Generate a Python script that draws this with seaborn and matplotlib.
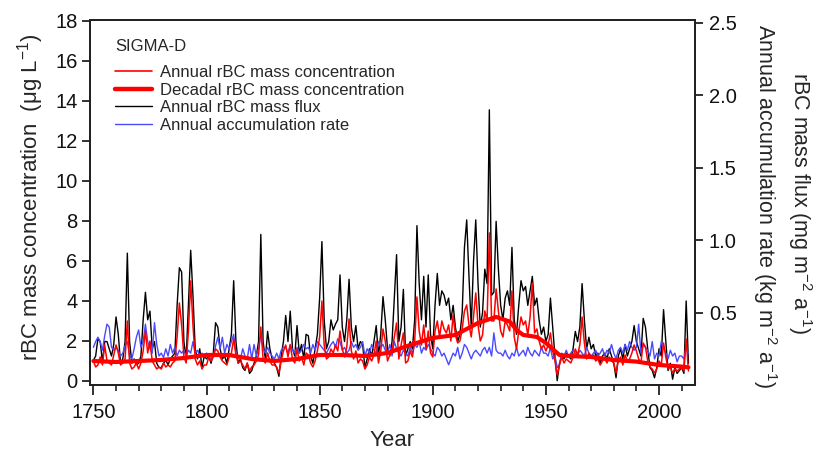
import matplotlib
matplotlib.use("Agg")
import matplotlib.pyplot as plt
import seaborn as sns
from matplotlib.ticker import MultipleLocator
from matplotlib.lines import Line2D

years = list(range(1750, 2014))

# Annual rBC mass concentration (ug/L), 1750-2013
conc = [
    1.0, 0.7, 0.8, 1.2, 0.8, 1.8, 1.0, 0.9, 0.8, 1.3,
    1.8, 1.4, 0.8, 0.9, 1.1, 3.0, 0.9, 0.6, 0.7, 0.9,
    0.6, 0.9, 1.5, 2.5, 1.4, 2.0, 1.0, 0.8, 0.6, 0.7,
    0.6, 0.9, 0.7, 0.8, 0.7, 0.9, 1.0, 2.2, 3.9, 2.8,
    1.2, 0.9, 2.5, 5.0, 2.8, 1.1, 0.8, 1.0, 0.6, 0.8,
    0.8, 1.2, 1.0, 1.2, 1.6, 1.5, 1.2, 1.0, 0.9, 0.8,
    1.2, 1.4, 2.1, 1.3, 0.9, 1.0, 0.8, 0.6, 0.9, 0.5,
    0.7, 0.8, 1.0, 1.3, 2.7, 1.1, 0.9, 1.4, 1.0, 0.8,
    0.8, 0.7, 0.4, 1.0, 1.5, 1.8, 1.2, 1.8, 1.1, 0.9,
    1.6, 1.0, 1.2, 0.8, 1.4, 1.3, 0.9, 0.7, 1.0, 1.5,
    2.2, 4.0, 1.8, 1.1, 1.2, 1.6, 1.4, 1.8, 1.5, 2.5,
    1.6, 1.2, 1.7, 3.1, 1.5, 1.1, 1.5, 0.9, 1.1, 1.0,
    0.6, 0.8, 1.2, 1.0, 1.3, 2.0, 0.9, 1.5, 2.6, 2.0,
    1.0, 1.3, 1.5, 2.2, 2.9, 1.1, 1.8, 2.4, 0.9, 1.0,
    1.5, 1.2, 2.0, 4.2, 2.5, 1.8, 2.8, 1.6, 2.5, 1.4,
    1.2, 2.5, 3.0, 2.2, 3.0, 2.6, 2.4, 2.8, 2.0, 3.3,
    2.3, 1.9, 2.0, 2.6, 3.5, 3.8, 2.8, 2.2, 3.2, 4.4,
    2.8, 2.0, 2.3, 3.5, 3.0, 7.4, 3.0, 3.0, 4.6, 3.5,
    2.5, 2.2, 3.0, 2.8, 2.5, 4.5, 2.2, 1.6, 2.5, 3.2,
    2.8, 3.0, 2.3, 3.2, 4.9, 2.4, 2.6, 2.0, 1.6, 1.8,
    1.5, 1.8, 2.4, 1.5, 1.0, 0.3, 0.8, 1.2, 0.9, 1.1,
    1.0, 0.9, 1.2, 1.6, 1.3, 1.8, 3.2, 1.9, 1.1, 1.4,
    1.2, 1.3, 1.0, 1.1, 0.8, 1.0, 1.1, 0.9, 1.2, 1.0,
    0.9, 0.4, 1.0, 1.2, 0.8, 1.3, 1.0, 1.1, 1.4, 1.8,
    1.5, 1.1, 0.9, 1.9, 1.7, 1.0, 0.7, 0.6, 0.4, 0.6,
    1.0, 0.8, 1.9, 1.2, 0.6, 0.7, 0.4, 0.6, 0.5, 0.6,
    0.7, 0.5, 2.1, 0.5,
]

# Annual rBC mass flux (mg m-2 a-1), 1750-2013
flux = [
    0.17, 0.20, 0.32, 0.30, 0.16, 0.30, 0.30, 0.25, 0.20, 0.28,
    0.47, 0.35, 0.15, 0.18, 0.30, 0.91, 0.30, 0.15, 0.18, 0.14,
    0.15, 0.20, 0.45, 0.64, 0.45, 0.51, 0.25, 0.30, 0.15, 0.12,
    0.12, 0.15, 0.17, 0.14, 0.18, 0.20, 0.22, 0.55, 0.81, 0.78,
    0.30, 0.18, 0.55, 0.93, 0.62, 0.25, 0.18, 0.25, 0.12, 0.20,
    0.18, 0.20, 0.15, 0.22, 0.43, 0.40, 0.25, 0.18, 0.20, 0.15,
    0.25, 0.35, 0.72, 0.30, 0.15, 0.18, 0.12, 0.10, 0.15, 0.08,
    0.10, 0.15, 0.20, 0.30, 1.04, 0.30, 0.18, 0.37, 0.25, 0.18,
    0.15, 0.12, 0.06, 0.20, 0.30, 0.48, 0.30, 0.51, 0.25, 0.20,
    0.41, 0.22, 0.28, 0.18, 0.35, 0.34, 0.20, 0.15, 0.25, 0.35,
    0.60, 0.99, 0.45, 0.25, 0.30, 0.45, 0.38, 0.42, 0.45, 0.76,
    0.40, 0.30, 0.45, 0.73, 0.40, 0.30, 0.41, 0.25, 0.30, 0.28,
    0.12, 0.18, 0.25, 0.20, 0.30, 0.41, 0.20, 0.35, 0.61, 0.45,
    0.25, 0.20, 0.30, 0.60, 0.90, 0.30, 0.40, 0.66, 0.20, 0.25,
    0.30, 0.25, 0.45, 1.10, 0.70, 0.45, 0.75, 0.40, 0.76, 0.35,
    0.25, 0.55, 0.77, 0.55, 0.65, 0.62, 0.55, 0.60, 0.45, 0.55,
    0.40, 0.30, 0.35, 0.50, 0.95, 1.14, 0.75, 0.40, 0.85, 1.14,
    0.70, 0.40, 0.50, 0.80, 0.70, 1.90, 0.62, 0.64, 1.13, 0.80,
    0.55, 0.45, 0.60, 0.65, 0.55, 0.95, 0.45, 0.35, 0.55, 0.72,
    0.65, 0.68, 0.55, 0.65, 0.75, 0.55, 0.60, 0.45, 0.35, 0.40,
    0.30, 0.35, 0.60, 0.40, 0.20, 0.03, 0.15, 0.20, 0.18, 0.22,
    0.20, 0.18, 0.25, 0.37, 0.30, 0.40, 0.70, 0.45, 0.25, 0.33,
    0.25, 0.28, 0.20, 0.22, 0.15, 0.20, 0.22, 0.18, 0.25, 0.20,
    0.15, 0.05, 0.20, 0.25, 0.18, 0.28, 0.20, 0.25, 0.30, 0.41,
    0.30, 0.25, 0.20, 0.46, 0.40, 0.25, 0.12, 0.10, 0.05, 0.12,
    0.25, 0.20, 0.52, 0.30, 0.10, 0.15, 0.04, 0.12, 0.08, 0.10,
    0.12, 0.08, 0.58, 0.15,
]

# Annual accumulation rate (kg m-2 a-1), 1750-2013
accum = [
    0.26, 0.30, 0.33, 0.30, 0.24, 0.34, 0.42, 0.40, 0.26, 0.24,
    0.26, 0.24, 0.20, 0.22, 0.27, 0.30, 0.20, 0.18, 0.25, 0.33,
    0.38, 0.26, 0.30, 0.42, 0.30, 0.25, 0.22, 0.43, 0.28, 0.20,
    0.22, 0.19, 0.25, 0.20, 0.28, 0.22, 0.26, 0.20, 0.24, 0.22,
    0.24, 0.20, 0.24, 0.22, 0.30, 0.22, 0.24, 0.20, 0.22, 0.20,
    0.22, 0.20, 0.18, 0.20, 0.27, 0.33, 0.25, 0.33, 0.22, 0.28,
    0.25, 0.30, 0.35, 0.22, 0.20, 0.18, 0.25, 0.20, 0.18, 0.28,
    0.18, 0.28, 0.20, 0.25, 0.35, 0.25, 0.22, 0.26, 0.22, 0.20,
    0.18, 0.22, 0.18, 0.24, 0.26, 0.26, 0.22, 0.28, 0.24, 0.22,
    0.26, 0.22, 0.24, 0.28, 0.25, 0.26, 0.22, 0.28, 0.24, 0.30,
    0.28, 0.26, 0.24, 0.22, 0.25, 0.28, 0.30, 0.26, 0.32, 0.30,
    0.24, 0.26, 0.22, 0.24, 0.30, 0.26, 0.28, 0.24, 0.26, 0.30,
    0.20, 0.25, 0.22, 0.28, 0.24, 0.22, 0.30, 0.26, 0.28, 0.24,
    0.22, 0.28, 0.20, 0.30, 0.25, 0.22, 0.20, 0.24, 0.22, 0.20,
    0.26, 0.22, 0.28, 0.26, 0.30, 0.22, 0.26, 0.24, 0.28, 0.25,
    0.22, 0.20, 0.26, 0.24, 0.20, 0.22, 0.18, 0.14, 0.18, 0.22,
    0.20, 0.26, 0.18, 0.22, 0.28, 0.26, 0.22, 0.18, 0.22, 0.24,
    0.22, 0.20, 0.24, 0.26, 0.22, 0.26, 0.20, 0.36, 0.24, 0.22,
    0.22, 0.20, 0.24, 0.20, 0.18, 0.22, 0.20, 0.26, 0.20, 0.22,
    0.24, 0.20, 0.26, 0.22, 0.20, 0.24, 0.22, 0.20, 0.26, 0.22,
    0.22, 0.20, 0.26, 0.18, 0.20, 0.12, 0.14, 0.22, 0.20, 0.24,
    0.20, 0.22, 0.24, 0.22, 0.20, 0.24, 0.22, 0.20, 0.26, 0.22,
    0.20, 0.22, 0.24, 0.20, 0.22, 0.25, 0.20, 0.24, 0.22, 0.28,
    0.22, 0.18, 0.24, 0.26, 0.22, 0.28, 0.24, 0.30, 0.26, 0.24,
    0.26, 0.42, 0.22, 0.28, 0.26, 0.24, 0.20, 0.30, 0.18, 0.22,
    0.20, 0.30, 0.26, 0.22, 0.18, 0.24, 0.20, 0.22, 0.16, 0.20,
    0.20, 0.18, 0.26, 0.22,
]

# Decadal rBC mass concentration (smoothed)
decadal_years = [1750, 1760, 1770, 1780, 1790, 1800, 1810, 1820, 1830, 1840,
                 1850, 1860, 1870, 1880, 1890, 1900, 1910, 1920, 1928, 1934,
                 1937, 1940, 1946, 1950, 1956, 1960, 1970, 1980, 1990, 2000,
                 2010, 2013]
decadal_conc = [1.0, 0.95, 1.0, 1.05, 1.15, 1.3, 1.3, 1.1, 1.0, 1.1,
                1.3, 1.3, 1.25, 1.4, 1.8, 2.15, 2.3, 2.9, 3.2, 2.97,
                2.55, 2.3, 2.2, 1.9, 1.3, 1.25, 1.2, 1.05, 0.97, 0.8,
                0.72, 0.68]

labels = ["Annual rBC mass concentration", "Decadal rBC mass concentration",
          "Annual rBC mass flux", "Annual accumulation rate"]

sns.set_theme(style="ticks")
plt.rcParams["font.family"] = ["Liberation Sans", "DejaVu Sans"]
plt.rcParams["mathtext.default"] = "regular"

RED = "#ff0000"
BLUE = "#4a4aff"

fig = plt.figure(figsize=(8.19, 4.53), dpi=100)
ax = fig.add_axes([90 / 819, 1 - 385 / 453, 605 / 819, 365 / 453])
ax2 = ax.twinx()
ax.set_zorder(ax2.get_zorder() + 1)
ax.patch.set_visible(False)

sns.lineplot(x=years, y=flux, ax=ax2, color="black", lw=1.0, legend=False)
sns.lineplot(x=years, y=accum, ax=ax2, color=BLUE, lw=1.0, legend=False)
sns.lineplot(x=years, y=conc, ax=ax, color=RED, lw=1.1, legend=False)
sns.lineplot(x=decadal_years, y=decadal_conc, ax=ax, color=RED, lw=3.0, legend=False)

ax.set_xlim(1748.5, 2015.9)
ax.set_ylim(-0.2, 18.04)
ax2.set_ylim(0, 2.52)

ax.set_yticks(range(0, 19, 2))
ax2.set_yticks([0.5, 1.0, 1.5, 2.0, 2.5])
ax2.set_yticklabels(["0.5", "1.0", "1.5", "2.0", "2.5"])
ax.xaxis.set_major_locator(MultipleLocator(50))
ax.xaxis.set_minor_locator(MultipleLocator(10))

for a in (ax, ax2):
    for s in a.spines.values():
        s.set_visible(True)
        s.set_linewidth(1.4)
        s.set_color("#222222")
ax.tick_params(axis="both", which="major", direction="out", length=6, width=1.3,
               labelsize=14.5, colors="#222222", labelcolor="#111111", pad=3)
ax.tick_params(axis="x", which="minor", direction="out", length=4, width=1.2,
               colors="#222222")
ax.tick_params(axis="x", which="major", length=7, pad=6)
ax.tick_params(axis="y", left=True, right=False)
ax2.tick_params(axis="y", direction="out", length=6, width=1.3, labelsize=14.5,
                colors="#222222", labelcolor="#111111", pad=4)

ax.set_xlabel("")
ax.set_ylabel("")
ax2.set_ylabel("")
fig.text(392 / 819, 1 - 440 / 453, "Year", fontsize=16, ha="center", va="center")
fig.text(31 / 819, 1 - 197 / 453, "rBC mass concentration  (μg L$^{-1}$)",
         rotation=90, fontsize=16, ha="center", va="center")
fig.text(800 / 819, 1 - 203 / 453, "rBC mass flux (mg m$^{-2}$ a$^{-1}$)",
         rotation=270, fontsize=15.5, ha="center", va="center")
fig.text(765 / 819, 1 - 206 / 453, "Annual accumulation rate (kg m$^{-2}$ a$^{-1}$)",
         rotation=270, fontsize=15.5, ha="center", va="center")

handles = [Line2D([], [], color=RED, lw=1.2),
           Line2D([], [], color=RED, lw=3.2),
           Line2D([], [], color="black", lw=1.0),
           Line2D([], [], color=BLUE, lw=1.0)]
leg = ax.legend(handles, labels, title="SIGMA-D", loc="upper left",
                bbox_to_anchor=(0.042, 0.948), frameon=False, fontsize=12,
                title_fontsize=12, handlelength=2.2, handletextpad=0.5,
                labelspacing=0.15, borderpad=0, borderaxespad=0,
                alignment="left")
leg._legend_box.sep = 8

fig.savefig("out.png", dpi=100)
